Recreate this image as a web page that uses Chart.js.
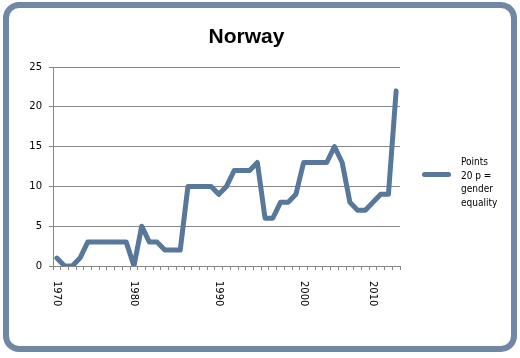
<!DOCTYPE html>
<html>
<head>
<meta charset="utf-8">
<title>Norway</title>
<script src="https://cdn.jsdelivr.net/npm/chart.js@4"></script>
<style>
  html, body { margin: 0; padding: 0; background: #fff; }
  .card { position: relative; width: 520px; height: 358px; overflow: hidden; }
  .frame {
    position: absolute; left: 3px; top: 2px; width: 514px; height: 350px;
    box-sizing: border-box; border: 6px solid #7088a6; border-radius: 16px; background: #fff;
  }
  .chart-box { position: absolute; left: 0; top: 0; width: 520px; height: 358px; }
  .title {
    position: absolute; left: 0; top: 23px; width: 493px; text-align: center;
    font: bold 21px/25px "Liberation Sans", Arial, sans-serif; color: #000;
  }
  .legend { position: absolute; left: 422px; top: 155px; }
  .legend .swatch { position: absolute; left: 0; top: 17px; width: 29px; height: 5px; border-radius: 2.5px; }
  .legend .text {
    position: absolute; left: 39px; top: 0; white-space: nowrap; color: #000;
    font: 10px/13.5px "DejaVu Sans Condensed", "DejaVu Sans", sans-serif;
  }
</style>
</head>
<body>
<div class="card">
  <div class="frame"></div>
  <div class="chart-box"><canvas id="chart"></canvas></div>
  <div class="title">Norway</div>
  <div class="legend">
    <div class="swatch" id="swatch"></div>
    <div class="text" id="legendText"></div>
  </div>
</div>
<script>
// values, one per category
const points = [1, 0, 0, 1, 3, 3, 3, 3, 3, 3,
                0, 5, 3, 3, 2, 2, 2, 10, 10, 10,
                10, 9, 10, 12, 12, 12, 13, 6, 6, 8,
                8, 9, 13, 13, 13, 13, 15, 13, 8, 7,
                7, 8, 9, 9, 22]
const decadeLabels = ['1970', '1980', '1990', '2000', '2010']
const decadePositions = [0, 10, 21, 32, 41]
const yTicks = [0, 5, 10, 15, 20, 25]
const seriesName = ['Points', '20 p =', 'gender', 'equality']

const lineColor = '#57789b'
const axisColor = '#868686'

const categories = points.map((_, i) => {
  const k = decadePositions.indexOf(i)
  return k >= 0 ? decadeLabels[k] : ''
})

// x labels read top-to-bottom, which chart.js can't rotate that way itself
const downwardLabels = {
  id: 'downwardLabels',
  afterDraw(chart) {
    const { ctx } = chart
    const x = chart.scales.x
    ctx.save()
    ctx.font = '10px "DejaVu Sans"'
    ctx.fillStyle = '#000'
    ctx.textAlign = 'left'
    ctx.textBaseline = 'middle'
    chart.data.labels.forEach((label, i) => {
      if (!label) return
      ctx.save()
      ctx.translate(x.getPixelForValue(i), x.top + 15)
      ctx.rotate(Math.PI / 2)
      ctx.fillText(label, 0, 0)
      ctx.restore()
    })
    ctx.restore()
  }
}

const chart = new Chart(document.getElementById('chart'), {
  type: 'line',
  data: {
    labels: categories,
    datasets: [{
      label: seriesName.join(' '),
      data: points,
      borderColor: lineColor,
      backgroundColor: lineColor,
      borderWidth: 5,
      borderJoinStyle: 'round',
      borderCapStyle: 'round',
      pointRadius: 0,
      tension: 0,
      fill: false
    }]
  },
  options: {
    responsive: true,
    maintainAspectRatio: false,
    animation: false,
    layout: { padding: { left: 0, top: 67, right: 120, bottom: 0 } },
    plugins: {
      legend: { display: false },
      title: { display: false },
      tooltip: { enabled: false }
    },
    scales: {
      x: {
        type: 'category',
        offset: true,
        grid: { offset: true, drawOnChartArea: false, drawTicks: true, tickLength: 4, color: axisColor },
        border: { color: axisColor },
        ticks: { display: false },
        afterFit: (scale) => { scale.height = 92 }
      },
      y: {
        min: 0,
        max: 25,
        afterBuildTicks: (axis) => { axis.ticks = yTicks.map(v => ({ value: v })) },
        grid: { color: axisColor, tickLength: 4 },
        border: { color: axisColor },
        ticks: { padding: 7, color: '#000', font: { family: '"DejaVu Sans"', size: 10 } },
        afterFit: (scale) => { scale.width = 53 }
      }
    }
  },
  plugins: [downwardLabels]
})

document.getElementById('swatch').style.background = lineColor
document.getElementById('legendText').innerHTML = seriesName.join('<br>')
</script>
</body>
</html>
